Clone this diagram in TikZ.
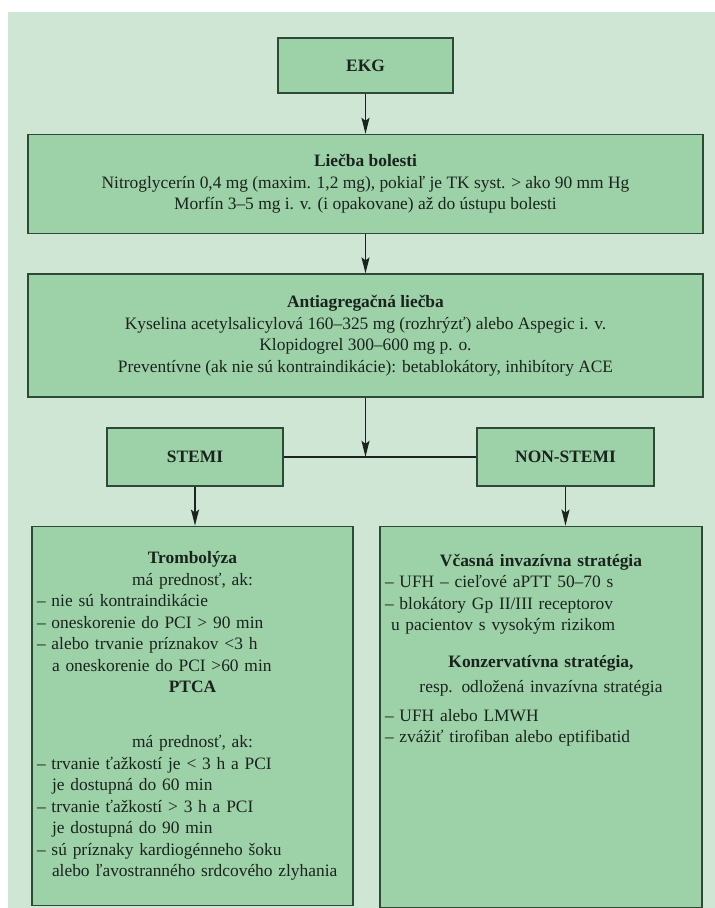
\documentclass[tikz,border=0pt]{standalone}
\usepackage{fontspec}
\setmainfont{Liberation Serif}
\usepackage{tikz}
\usetikzlibrary{positioning, arrows.meta}
\definecolor{ekgpage}{HTML}{CFE6D4}
\definecolor{ekgfill}{HTML}{9DD1A8}
\definecolor{ekgline}{HTML}{2E4A37}
\definecolor{ekgink}{HTML}{1A231D}
\newcommand{\ekgfont}{\fontsize{17.4}{21.5}\selectfont}
\newcommand{\itemdash}{–\ }

\begin{document}
\begin{tikzpicture}[
  x=1pt, y=1pt,
  node distance=40pt,
  box/.style={draw=ekgline, line width=1.6pt, fill=ekgfill, text=ekgink, align=center, font=\ekgfont, inner sep=0pt},
  tagbox/.style={box, minimum width=175pt, minimum height=55pt, font=\ekgfont\bfseries},
  wide/.style={box, minimum width=675pt},
  panel/.style={box, minimum width=321pt, minimum height=379pt},
  paneltext/.style={text=ekgink, font=\ekgfont, text width=311pt, inner sep=0pt},
  arr/.style={-{Stealth[length=16pt, width=8pt, inset=3pt]}, line width=1.5pt, ekgink},
  link/.style={line width=1.5pt, ekgink}
]
  \useasboundingbox (0,0) rectangle (715,-908);
  \fill[ekgpage] (8,-12) rectangle (715,-908);

  \node[tagbox] (ekg) at (365.5,-65.5) {EKG};
  \node[wide, minimum height=99pt, below=of ekg] (bolest) {\textbf{Liečba bolesti}\\ Nitroglycerín 0,4 mg (maxim. 1,2 mg), pokiaľ je TK syst. > ako 90 mm Hg\\ Morfín 3–5 mg i. v. (i opakovane) až do ústupu bolesti};
  \node[wide, minimum height=123pt, below=39pt of bolest] (antiagr) {\textbf{Antiagregačná liečba}\\ Kyselina acetylsalicylová 160–325 mg (rozhrýzť) alebo Aspegic i. v.\\ Klopidogrel 300–600 mg p. o.\\ Preventívne (ak nie sú kontraindikácie): betablokátory, inhibítory ACE};
  \node[tagbox, minimum width=176pt, minimum height=58pt, below right=29pt and 79pt of antiagr.south west] (stemi) {STEMI};
  \node[tagbox, minimum width=177pt, minimum height=58pt, below left=29pt and 49pt of antiagr.south east] (nstemi) {NON-STEMI};
  \node[panel, below right=39pt and -75pt of stemi.south west] (trombo) {};
  \node[panel, minimum width=322pt, minimum height=381pt, below left=39pt and -48pt of nstemi.south east] (invaz) {};
  \node[paneltext, below=26pt of trombo.north] (trombotext) {%
    {\centering\textbf{Trombolýza}\\ má prednosť, ak:\par}
    {\raggedright\itemdash nie sú kontraindikácie\\
    \itemdash oneskorenie do PCI > 90 min\\
    \itemdash alebo trvanie príznakov <3 h\\
    \hspace*{15pt}a oneskorenie do PCI >60 min\par}
    {\centering\textbf{PTCA}\\[33.5pt] má prednosť, ak:\par}
    {\raggedright\itemdash trvanie ťažkostí je < 3 h a PCI\\
    \hspace*{15pt}je dostupná do 60 min\\
    \itemdash trvanie ťažkostí > 3 h a PCI\\
    \hspace*{15pt}je dostupná do 90 min\\
    \itemdash sú príznaky kardiogénneho šoku\\
    \hspace*{15pt}alebo ľavostranného srdcového zlyhania\par}};
  \node[paneltext, text width=312pt, below=28pt of invaz.north] (invaztext) {%
    {\centering\textbf{Včasná invazívna stratégia}\par}
    {\raggedright\itemdash UFH – cieľové aPTT 50–70 s\\
    \itemdash blokátory Gp II/III receptorov\\
    \hspace*{6pt}u pacientov s vysokým rizikom\par}
    \vspace{15pt}
    {\centering\textbf{Konzervatívna stratégia,}\\[4pt] resp. odložená invazívna stratégia\par}
    \vspace{7pt}
    {\raggedright\itemdash UFH alebo LMWH\\
    \itemdash zvážiť tirofiban alebo eptifibatid\par}};
  \coordinate (split) at (antiagr.south |- stemi.east);

  \draw[arr] (ekg) -- (bolest);
  \draw[arr] (bolest) -- (antiagr);
  \draw[arr] (antiagr) -- (split);
  \draw[link] (stemi) -- (nstemi);
  \draw[arr] (stemi) -- (stemi.south |- trombo.north);
  \draw[arr] (nstemi) -- (nstemi.south |- invaz.north);
\end{tikzpicture}
\end{document}
